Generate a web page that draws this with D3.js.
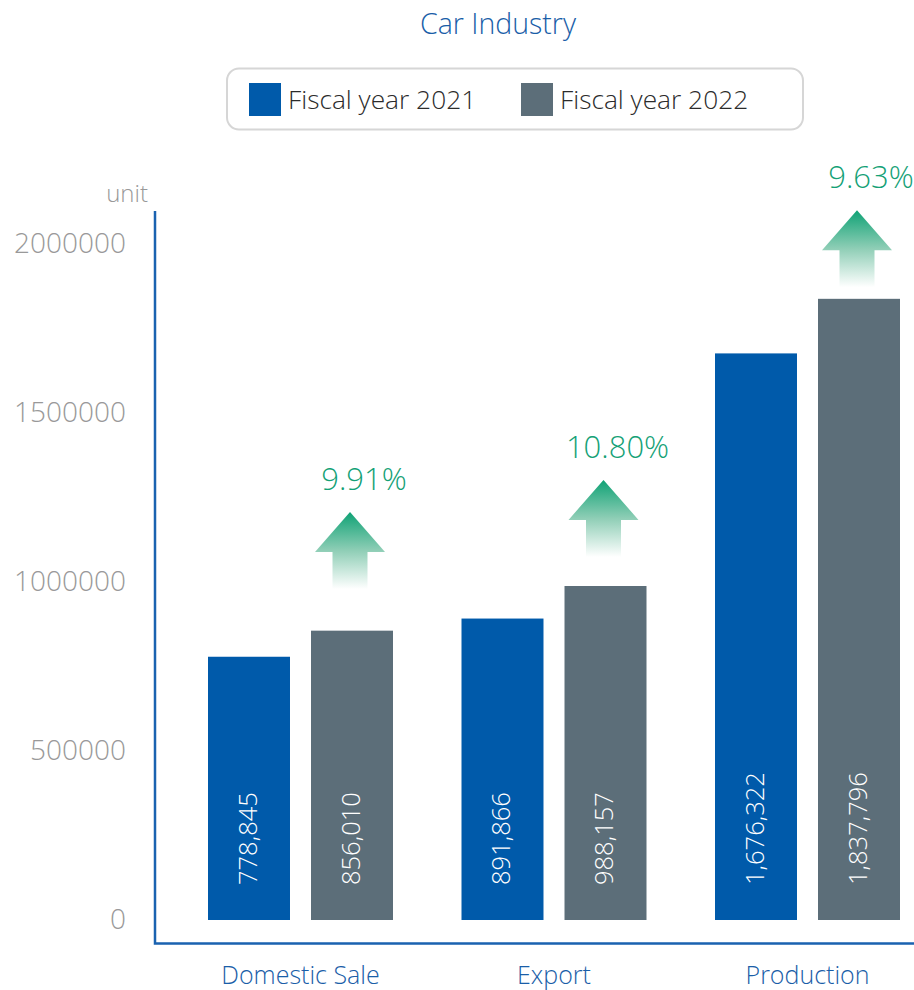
<!DOCTYPE html>
<html><head><meta charset="utf-8">
<script src="https://cdn.jsdelivr.net/npm/d3@7"></script>
<style>body{margin:0;background:#fff}svg{display:block}text{font-family:"Open Sans","Noto Sans",sans-serif;font-weight:350}</style>
</head><body><svg id="c" width="914" height="990"></svg>
<script>
const title = "Car Industry";
const categories = ["Domestic Sale", "Export", "Production"];
const seriesNames = ["Fiscal year 2021", "Fiscal year 2022"];
const fy2021 = [778845, 891866, 1676322];
const fy2022 = [856010, 988157, 1837796];
const growthLabels = ["9.91%", "10.80%", "9.63%"];
const arrowTipValues = [1207000, 1302000, 2100000];
const yTicks = [0, 500000, 1000000, 1500000, 2000000];
const unitLabel = "unit";
const colors = ["#005aaa", "#5c6e79"];

const svg = d3.select("#c");
const y = d3.scaleLinear().domain([0, 2000000]).range([920, 244]);
const x = d3.scalePoint().domain(categories).range([300.5, 807.5]);
const xs = d3.scaleBand().domain(seriesNames).range([-92.5, 92.5]).paddingInner(0.204);
const fmt = d3.format(",");

const defs = svg.append("defs");
const g = defs.append("linearGradient").attr("id","ag").attr("x1",0).attr("y1",0).attr("x2",0).attr("y2",1);
g.append("stop").attr("offset","0%").attr("stop-color","#0fa275");
g.append("stop").attr("offset","50%").attr("stop-color","#8fceb6");
g.append("stop").attr("offset","100%").attr("stop-color","#ffffff");

svg.append("text").attr("x",498).attr("y",26).attr("text-anchor","middle").attr("dominant-baseline","middle")
  .attr("font-size",28.5).attr("fill","#1a5ea8").text(title);

svg.append("rect").attr("x",227).attr("y",68.5).attr("width",576).attr("height",61).attr("rx",12)
  .attr("fill","#fff").attr("stroke","#d6d6d6").attr("stroke-width",2);
const legX = [249, 521];
seriesNames.forEach((s,i)=>{
  svg.append("rect").attr("x",legX[i]).attr("y",83).attr("width",32).attr("height",33).attr("fill",colors[i]);
  svg.append("text").attr("x",legX[i]+39).attr("y",102).attr("dominant-baseline","middle")
    .attr("font-size",26.3).attr("fill","#2b2b2b").text(s);
});

svg.selectAll(".yt").data(yTicks).join("text").attr("class","yt")
  .attr("x",126).attr("y",d=>y(d)+2).attr("text-anchor","end").attr("dominant-baseline","middle")
  .attr("font-size",28).attr("fill","#999").text(d=>d);
svg.append("text").attr("x",148).attr("y",196).attr("text-anchor","end").attr("dominant-baseline","middle")
  .attr("font-size",24).attr("fill","#999").text(unitLabel);

svg.append("path").attr("d","M155,211V943.5H914").attr("fill","none").attr("stroke","#1a62b0").attr("stroke-width",2.5);

const series = [fy2021, fy2022];
categories.forEach((c,ci)=>{
  series.forEach((vals,si)=>{
    const bx = x(c) + xs(seriesNames[si]);
    const v = vals[ci];
    svg.append("rect").attr("x",bx).attr("y",y(v)).attr("width",xs.bandwidth()).attr("height",y(0)-y(v)).attr("fill",colors[si]);
    const cx = bx + xs.bandwidth()/2;
    svg.append("text").attr("transform",`translate(${cx+1},${y(0)-35}) rotate(-90)`)
      .attr("dominant-baseline","middle").attr("font-size",25.5).attr("fill","#fff").text(fmt(v));
  });
  svg.append("text").attr("x",x(c)).attr("y",977).attr("text-anchor","middle").attr("dominant-baseline","middle")
    .attr("font-size",25).attr("fill","#1a5ea8").text(c);

  const ax = x(c) + xs(seriesNames[1]) + xs.bandwidth()/2 - 2;
  const ty = y(arrowTipValues[ci]);
  const path = `M${ax},${ty} L${ax+35},${ty+40} L${ax+17.5},${ty+40} L${ax+17.5},${ty+77} L${ax-17.5},${ty+77} L${ax-17.5},${ty+40} L${ax-35},${ty+40} Z`;
  svg.append("path").attr("d",path).attr("fill","url(#ag)");
  svg.append("text").attr("x",ax+14).attr("y",ty-30).attr("text-anchor","middle").attr("dominant-baseline","middle")
    .attr("font-size",31).attr("fill","#14a176").text(growthLabels[ci]);
});
</script></body></html>
